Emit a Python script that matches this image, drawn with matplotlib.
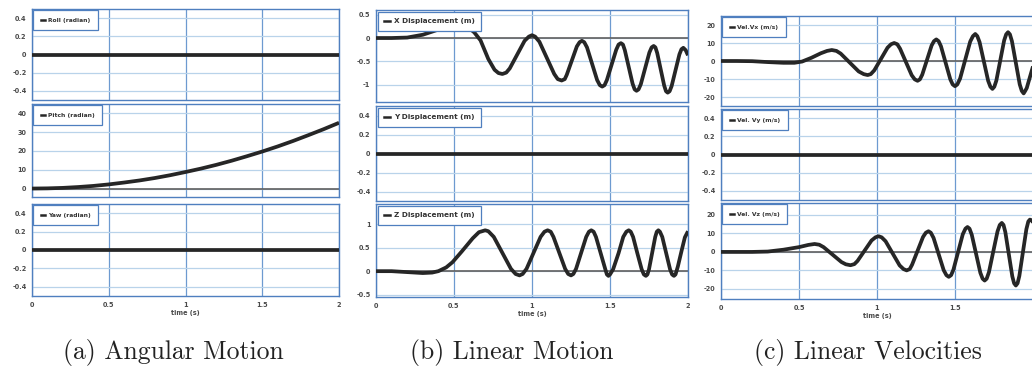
import numpy as np
import matplotlib
matplotlib.use("Agg")
import matplotlib.pyplot as plt
from matplotlib.lines import Line2D

# ---------------- data ----------------
pitch_t = [0.0, 0.1, 0.2, 0.3, 0.4, 0.5, 0.6, 0.7, 0.8, 0.9, 1.0,
           1.1, 1.2, 1.3, 1.4, 1.5, 1.6, 1.7, 1.8, 1.9, 2.0]
pitch_v = [0.0, 0.1, 0.35, 0.8, 1.4, 2.2, 3.2, 4.3, 5.6, 7.1, 8.8,
           10.6, 12.6, 14.8, 17.2, 19.7, 22.4, 25.3, 28.4, 31.6, 35.0]

zero_t = [0.0, 2.0]
zero_v = [0.0, 0.0]

xdisp_t = [0.0, 0.1, 0.2, 0.3, 0.39, 0.45, 0.5, 0.58, 0.63, 0.67, 0.72, 0.76, 0.785, 0.81,
           0.835, 0.8575, 0.905, 0.9525, 0.98, 1.00, 1.02,
           1.0475, 1.095, 1.1425, 1.165, 1.19, 1.21,
           1.2225, 1.255, 1.2875, 1.305, 1.32, 1.335,
           1.3525, 1.385, 1.4175, 1.435, 1.45, 1.465,
           1.48, 1.51, 1.54, 1.555, 1.57, 1.583,
           1.595, 1.62, 1.645, 1.658, 1.67, 1.683,
           1.6975, 1.725, 1.7525, 1.767, 1.78, 1.791,
           1.8025, 1.825, 1.8475, 1.859, 1.87, 1.882,
           1.895, 1.92, 1.945, 1.958, 1.97,
           1.985, 2.0]
xdisp_v = [0.0, 0.0, 0.01, 0.07, 0.17, 0.28, 0.33, 0.26, 0.12, -0.05, -0.45, -0.68, -0.75, -0.77,
           -0.74, -0.65, -0.355, -0.06, 0.03, 0.06, 0.03,
           -0.08, -0.425, -0.77, -0.88, -0.91, -0.88,
           -0.79, -0.485, -0.18, -0.09, -0.06, -0.09,
           -0.20, -0.55, -0.90, -1.01, -1.04, -1.01,
           -0.90, -0.575, -0.25, -0.14, -0.11, -0.14,
           -0.26, -0.62, -0.98, -1.10, -1.13, -1.10,
           -0.99, -0.65, -0.31, -0.20, -0.17, -0.20,
           -0.32, -0.67, -1.02, -1.14, -1.17, -1.14,
           -1.03, -0.69, -0.35, -0.24, -0.21,
           -0.26, -0.37]

zdisp_t = [0.0, 0.1, 0.2, 0.3, 0.36, 0.40, 0.45, 0.49, 0.55, 0.62, 0.66, 0.70, 0.72,
           0.755, 0.81, 0.865, 0.895, 0.92, 0.94,
           0.965, 1.01, 1.055, 1.08, 1.10, 1.12,
           1.1375, 1.175, 1.2125, 1.232, 1.25, 1.265,
           1.2825, 1.315, 1.3475, 1.365, 1.38, 1.395,
           1.41, 1.44, 1.47, 1.48, 1.49, 1.50,
           1.52, 1.555, 1.585, 1.605, 1.62, 1.633,
           1.648, 1.675, 1.703, 1.717, 1.73, 1.74,
           1.75, 1.77, 1.79, 1.80, 1.81, 1.82,
           1.835, 1.86, 1.885, 1.898, 1.91, 1.92,
           1.935, 1.96, 1.98, 2.0]
zdisp_v = [0.0, 0.0, -0.02, -0.04, -0.03, 0.0, 0.08, 0.19, 0.42, 0.70, 0.83, 0.87, 0.85,
           0.73, 0.39, 0.05, -0.06, -0.09, -0.06,
           0.05, 0.39, 0.73, 0.84, 0.87, 0.84,
           0.73, 0.39, 0.05, -0.06, -0.09, -0.06,
           0.05, 0.39, 0.73, 0.84, 0.87, 0.84,
           0.73, 0.385, 0.04, -0.07, -0.10, -0.07,
           0.04, 0.385, 0.73, 0.84, 0.87, 0.84,
           0.73, 0.385, 0.04, -0.07, -0.10, -0.07,
           0.04, 0.385, 0.73, 0.84, 0.87, 0.84,
           0.73, 0.385, 0.04, -0.07, -0.10, -0.07,
           0.10, 0.45, 0.72, 0.85]

vx_t = [0.0, 0.1, 0.2, 0.3, 0.4, 0.47, 0.52, 0.58, 0.64, 0.68, 0.71, 0.74,
        0.7675, 0.825, 0.8825, 0.915, 0.94, 0.96,
        0.9825, 1.025, 1.0675, 1.09, 1.11, 1.13,
        1.1475, 1.185, 1.2225, 1.242, 1.26, 1.275,
        1.29, 1.32, 1.35, 1.365, 1.38, 1.395,
        1.41, 1.44, 1.47, 1.485, 1.50, 1.515,
        1.5325, 1.565, 1.5975, 1.615, 1.63, 1.643,
        1.6575, 1.685, 1.7125, 1.727, 1.74, 1.752,
        1.765, 1.79, 1.815, 1.828, 1.84, 1.852,
        1.865, 1.89, 1.915, 1.928, 1.94, 1.95,
        1.96, 1.98, 2.0]
vx_v = [0.0, 0.0, -0.1, -0.6, -1.0, -1.0, -0.3, 1.8, 4.3, 5.6, 6.1, 5.6,
        4.1, -0.85, -5.8, -7.3, -7.8, -7.3,
        -5.2, 1.1, 7.4, 9.3, 10.0, 9.3,
        6.9, -0.5, -7.9, -10.2, -11.0, -10.2,
        -7.6, 0.5, 8.6, 11.0, 12.0, 11.0,
        8.2, -1.0, -10.2, -13.0, -14.0, -13.0,
        -9.8, 0.5, 10.8, 13.8, 15.0, 13.8,
        10.5, -0.25, -11.0, -14.3, -15.5, -14.3,
        -10.9, 0.25, 11.4, 14.8, 16.0, 14.8,
        11.0, -1.0, -13.0, -16.6, -18.0, -16.6,
        -15.0, -9.0, -3.0]

vz_t = [0.0, 0.1, 0.2, 0.3, 0.4, 0.5, 0.56, 0.6, 0.63,
        0.6575, 0.715, 0.7725, 0.80, 0.83, 0.855,
        0.875, 0.92, 0.965, 0.99, 1.01, 1.03,
        1.055, 1.10, 1.145, 1.17, 1.19, 1.21,
        1.225, 1.26, 1.295, 1.313, 1.33, 1.345,
        1.3625, 1.395, 1.4275, 1.445, 1.46, 1.475,
        1.49, 1.52, 1.55, 1.567, 1.58, 1.593,
        1.6075, 1.635, 1.6625, 1.677, 1.69, 1.703,
        1.7175, 1.745, 1.7725, 1.787, 1.80, 1.811,
        1.8225, 1.845, 1.8675, 1.879, 1.89, 1.901,
        1.9125, 1.935, 1.9575, 1.97, 1.98, 1.99, 2.0]
vz_v = [0.0, 0.0, 0.0, 0.2, 1.2, 2.6, 3.8, 4.3, 3.9,
        2.6, -1.45, -5.5, -6.7, -7.2, -6.6,
        -4.9, 0.65, 6.2, 7.9, 8.5, 7.9,
        5.8, -0.75, -7.3, -9.3, -10.0, -9.3,
        -6.9, 0.6, 8.1, 10.4, 11.2, 10.4,
        7.6, -1.15, -9.9, -12.6, -13.5, -12.6,
        -9.6, 0.0, 9.6, 12.6, 13.5, 12.6,
        9.3, -1.0, -11.3, -14.5, -15.5, -14.5,
        -11.0, 0.1, 11.1, 14.6, 15.7, 14.6,
        10.8, -1.25, -13.3, -17.0, -18.2, -17.0,
        -13.0, -0.35, 12.3, 16.5, 17.5, 17.2, 16.0]

xticks = [0, 0.5, 1, 1.5, 2]
xtick_labels = ["0", "0.5", "1", "1.5", "2"]
captions = ["(a) Angular Motion", "(b) Linear Motion", "(c) Linear Velocities"]

# ---------------- styling ----------------
W, H = 1032, 372
fig = plt.figure(figsize=(W / 100, H / 100), dpi=100)

SPINE = "#4f7fbf"
VGRID = "#6d9ad0"
HGRID = "#b9d3ea"
LINE = "#262626"
TICKC = "#4a4a4a"


def make_ax(x0, x1, y0, y1):
    return fig.add_axes([x0 / W, 1 - y1 / H, (x1 - x0) / W, (y1 - y0) / H])


def style(ax, t, v, label, ylim, yticks, ytlabels, fs_leg, bpad, bottom=False,
          xlabels=None, lw=2.7):
    ax.set_xlim(0, 2)
    ax.set_ylim(*ylim)
    for x in xticks:
        ax.axvline(x, color=VGRID, lw=0.9, zorder=1)
    for y in yticks:
        ax.axhline(y, color=HGRID, lw=0.9, zorder=1)
    ax.axhline(0, color="#5f5f5f", lw=1.2, zorder=2)
    ax.plot(t, v, color=LINE, lw=lw, zorder=3, solid_joinstyle="round",
            solid_capstyle="butt")
    ax.set_xticks(xticks)
    ax.set_yticks(yticks)
    ax.set_yticklabels(ytlabels)
    ax.tick_params(length=0, pad=4, labelsize=4.7, colors=TICKC)
    if bottom:
        ax.set_xticklabels(xlabels if xlabels is not None else xtick_labels)
        ax.set_xlabel("time (s)", fontsize=4.7, fontweight="bold",
                      color=TICKC, labelpad=2)
    else:
        ax.set_xticklabels([])
    for lab in ax.get_yticklabels() + ax.get_xticklabels():
        lab.set_fontweight("bold")
    for s in ax.spines.values():
        s.set_color(SPINE)
        s.set_linewidth(1.0)
    h = Line2D([], [], color=LINE, lw=1.8)
    leg = ax.legend([h], [label], loc="upper left", fontsize=fs_leg,
                    handlelength=0.8, handletextpad=0.5, borderpad=bpad,
                    borderaxespad=0.25, fancybox=False, framealpha=1.0,
                    edgecolor=SPINE)
    leg.get_frame().set_linewidth(0.9)
    leg.set_zorder(5)
    for txt in leg.get_texts():
        txt.set_color("#333333")
        txt.set_fontweight("bold")


small_ticks = [0.4, 0.2, 0, -0.2, -0.4]
small_labels = ["0.4", "0.2", "0", "-0.2", "-0.4"]

# panel (a)
ax = make_ax(32, 339, 9, 100)
style(ax, zero_t, zero_v, "Roll (radian)", (-0.5, 0.5), small_ticks, small_labels, 4.3, 1.2)
ax = make_ax(32, 339, 104, 197)
style(ax, pitch_t, pitch_v, "Pitch (radian)", (-4.5, 45), [40, 30, 20, 10, 0],
      ["40", "30", "20", "10", "0"], 4.3, 1.2)
ax = make_ax(32, 339, 204, 296)
style(ax, zero_t, zero_v, "Yaw (radian)", (-0.5, 0.5), small_ticks, small_labels, 4.3, 1.2,
      bottom=True)

# panel (b)
ax = make_ax(376, 688, 10, 102)
style(ax, xdisp_t, xdisp_v, "X Displacement (m)", (-1.37, 0.6), [0.5, 0, -0.5, -1],
      ["0.5", "0", "-0.5", "-1"], 5.2, 0.9)
ax = make_ax(376, 688, 106, 201)
style(ax, zero_t, zero_v, "Y Displacement (m)", (-0.5, 0.5), small_ticks, small_labels,
      5.2, 0.9)
ax = make_ax(376, 688, 204, 297)
style(ax, zdisp_t, zdisp_v, "Z Displacement (m)", (-0.55, 1.43), [1, 0.5, 0, -0.5],
      ["1", "0.5", "0", "-0.5"], 5.2, 0.9, bottom=True)

# panel (c) -- its right edge runs up to the figure border
ax = make_ax(721, 1033, 16, 106)
style(ax, vx_t, vx_v, "Vel.Vx (m/s)", (-25, 25), [20, 10, 0, -10, -20],
      ["20", "10", "0", "-10", "-20"], 4.3, 1.2)
ax = make_ax(721, 1033, 109, 200)
style(ax, zero_t, zero_v, "Vel. Vy (m/s)", (-0.5, 0.5), small_ticks, small_labels, 4.3, 1.2)
ax = make_ax(721, 1033, 203, 299)
style(ax, vz_t, vz_v, "Vel. Vz (m/s)", (-25.5, 26.5), [20, 10, 0, -10, -20],
      ["20", "10", "0", "-10", "-20"], 4.3, 1.2, bottom=True,
      xlabels=["0", "0.5", "1", "1.5", ""])

# captions
for cx, txt in zip([173, 512, 868], captions):
    fig.text(cx / W, 1 - 352 / H, txt, ha="center", va="center",
             fontsize=18.5, family="cmr10", color="#222222")

fig.savefig("out.png", dpi=100)
